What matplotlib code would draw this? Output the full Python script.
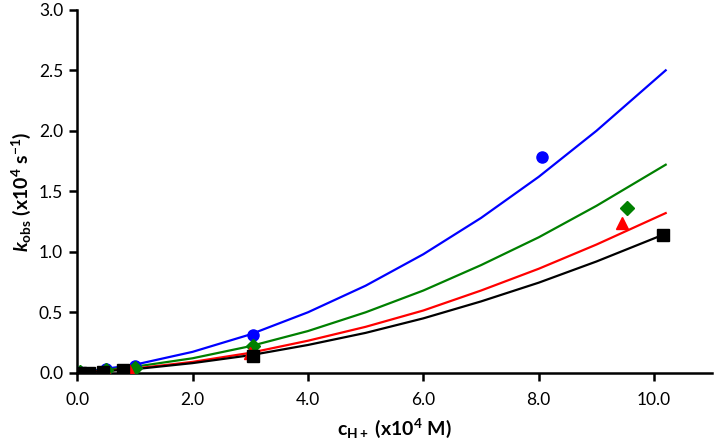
import matplotlib
matplotlib.use("Agg")
import matplotlib.pyplot as plt

plt.rcParams['font.family'] = ['Lato', 'DejaVu Sans']
plt.rcParams['mathtext.fontset'] = 'custom'
plt.rcParams['mathtext.rm'] = 'Lato'
plt.rcParams['mathtext.bf'] = 'Lato:bold'
plt.rcParams['mathtext.it'] = 'Lato:italic:bold'

# fitted curves
fit_x = [0, 1, 2, 3, 4, 5, 6, 7, 8, 9, 10.2]
fit_blue = [0, 0.067, 0.173, 0.317, 0.50, 0.72, 0.98, 1.28, 1.62, 2.0, 2.5]
fit_green = [0, 0.05, 0.12, 0.22, 0.345, 0.50, 0.68, 0.89, 1.12, 1.38, 1.72]
fit_red = [0, 0.035, 0.09, 0.165, 0.265, 0.38, 0.515, 0.68, 0.86, 1.06, 1.32]
fit_black_x = [0, 1, 2, 3, 4, 5, 6, 7, 8, 9, 10.15]
fit_black = [0, 0.03, 0.08, 0.145, 0.23, 0.33, 0.45, 0.59, 0.745, 0.92, 1.14]

# measured points
blue_x = [0.05, 0.5, 1.0, 3.05, 8.05]
blue_y = [0.005, 0.03, 0.06, 0.31, 1.78]
green_x = [0.05, 0.5, 1.0, 3.05, 9.53]
green_y = [0.003, 0.02, 0.04, 0.22, 1.36]
red_x = [0.05, 0.5, 0.9, 3.0, 9.45]
red_y = [0.0, 0.01, 0.02, 0.16, 1.24]
black_x = [0.05, 0.2, 0.45, 0.8, 3.05, 10.15]
black_y = [0.0, 0.0, 0.01, 0.02, 0.14, 1.14]

fig = plt.figure(figsize=(7.14, 4.47), dpi=100)
ax = fig.add_axes([0.108, 0.166, 0.889, 0.812])

ax.plot(fit_x, fit_blue, color='#0000ff', lw=1.6, zorder=2)
ax.plot(fit_x, fit_green, color='#008000', lw=1.6, zorder=2)
ax.plot(fit_x, fit_red, color='#ff0000', lw=1.6, zorder=2)
ax.plot(fit_black_x, fit_black, color='black', lw=1.6, zorder=2)

ax.plot(blue_x, blue_y, 'o', color='#0000ff', ms=8, ls='none', zorder=3)
ax.plot(green_x, green_y, 'D', color='#008000', ms=7, ls='none', zorder=3)
ax.plot(red_x, red_y, '^', color='#ff0000', ms=9, ls='none', zorder=3)
ax.plot(black_x, black_y, 's', color='black', ms=8, ls='none', zorder=4)

ax.set_xlim(0, 11)
ax.set_ylim(0, 3.0)
ax.set_xticks([0, 2, 4, 6, 8, 10])
ax.set_xticklabels(['0.0', '2.0', '4.0', '6.0', '8.0', '10.0'])
ax.set_yticks([0, 0.5, 1.0, 1.5, 2.0, 2.5, 3.0])
ax.set_yticklabels(['0.0', '0.5', '1.0', '1.5', '2.0', '2.5', '3.0'])

for s in ['top', 'right']:
    ax.spines[s].set_visible(False)
for s in ['left', 'bottom']:
    ax.spines[s].set_linewidth(1.8)
ax.tick_params(axis='both', direction='out', length=6, width=1.8, labelsize=12.5, colors='black')
ax.tick_params(axis='x', pad=8)
ax.tick_params(axis='y', pad=4)

ax.set_xlabel(r'$\mathbf{c_{H+}}$ $\mathbf{(x10^{4}\ M)}$', fontsize=14, labelpad=6)
ax.set_ylabel(r'$\mathit{k}_{\mathbf{obs}}$ $\mathbf{(x10^{4}\ s^{-1})}$', fontsize=14, labelpad=4)

fig.savefig('out.png', dpi=100)
